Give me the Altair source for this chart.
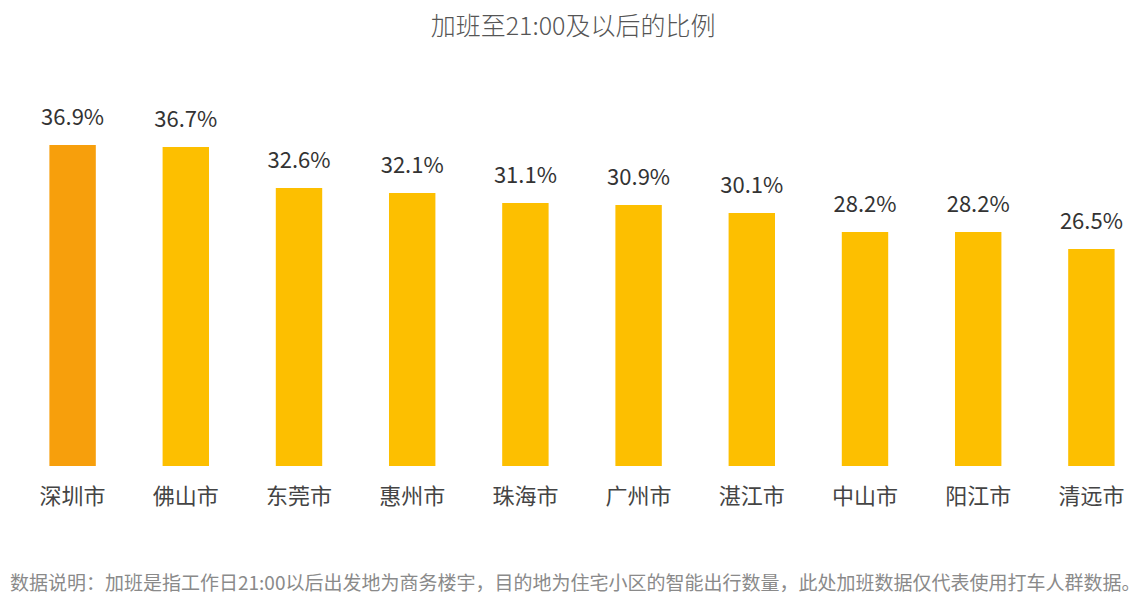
import altair as alt
import pandas as pd

cities = ["深圳市", "佛山市", "东莞市", "惠州市", "珠海市", "广州市", "湛江市", "中山市", "阳江市", "清远市"]
values = [36.9, 36.7, 32.6, 32.1, 31.1, 30.9, 30.1, 28.2, 28.2, 26.5]
highlight = ["top", "other", "other", "other", "other", "other", "other", "other", "other", "other"]

title_text = "加班至21:00及以后的比例"
note_text = "数据说明：加班是指工作日21:00以后出发地为商务楼宇，目的地为住宅小区的智能出行数量，此处加班数据仅代表使用打车人群数据。"

FONT = "Noto Sans CJK SC"

df = pd.DataFrame({"city": cities, "value": values, "group": highlight})
df["label"] = [f"{v:.1f}%" for v in values]

x = alt.X("city:N", sort=cities, title=None,
          scale=alt.Scale(paddingInner=0.59, paddingOuter=0.295),
          axis=alt.Axis(labelAngle=0, ticks=False, domain=False, labelFontSize=22,
                        labelColor="#444444", labelFont=FONT, labelPadding=20))
y = alt.Y("value:Q", scale=alt.Scale(domain=[4.8, 39.6], zero=False, nice=False, clamp=True), axis=None)

bars = alt.Chart(df).mark_bar().encode(
    x=x, y=y,
    color=alt.Color("group:N", scale=alt.Scale(domain=["top", "other"], range=["#F79F0C", "#FDBF00"]), legend=None),
)

labels = alt.Chart(df).mark_text(dy=-27, fontSize=22, font=FONT, color="#333333").encode(
    x=alt.X("city:N", sort=cities), y="value:Q", text="label:N"
)

title = alt.Chart(pd.DataFrame({"t": [title_text]})).mark_text(
    fontSize=25, font=FONT, color="#555555", fontWeight=300, align="center", baseline="middle"
).encode(x=alt.value(557), y=alt.value(-91), text="t:N")

note = alt.Chart(pd.DataFrame({"t": [note_text]})).mark_text(
    fontSize=19, font=FONT, color="#8a8a8a", align="left", baseline="middle"
).encode(x=alt.value(-6), y=alt.value(466), text="t:N")

chart = alt.layer(bars, labels, title, note).properties(
    width=1132, height=348,
    autosize=alt.AutoSizeParams(type="none"),
    padding={"left": 16, "top": 118, "right": 0, "bottom": 142},
    background="white",
).configure_view(stroke=None)

chart.save("out.html", embed_options={"renderer": "svg", "actions": False})
